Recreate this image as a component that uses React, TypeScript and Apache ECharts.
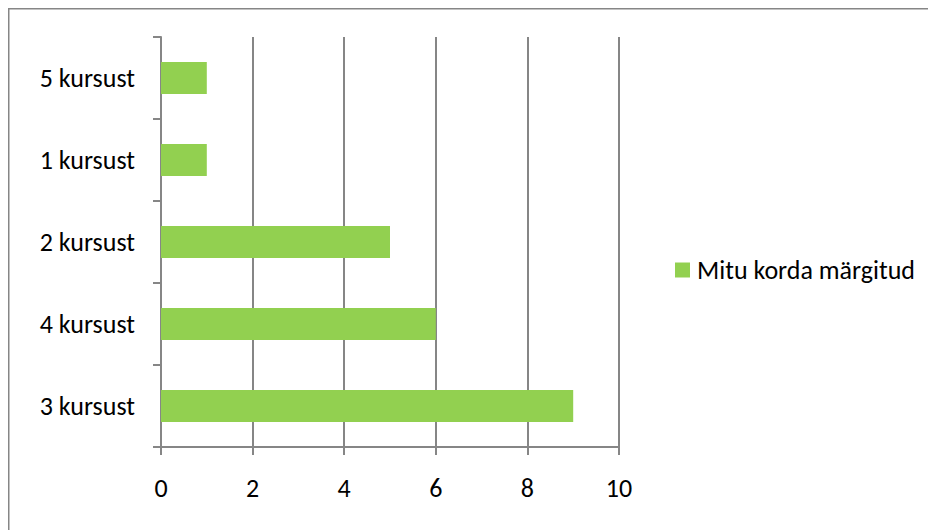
import React, { useEffect, useRef } from "react";
import * as echarts from "echarts";

const categories = ["3 kursust", "4 kursust", "2 kursust", "1 kursust", "5 kursust"];
const values = [9, 6, 5, 1, 1];
const seriesName = "Mitu korda märgitud";
const xMin = 0;
const xMax = 10;
const xStep = 2;

const FONT = "Carlito, Lato, sans-serif";
const AXIS = "#868686";
const FS = 26;

export default function App() {
  const ref = useRef<HTMLDivElement>(null);
  useEffect(() => {
    if (!ref.current) return;
    const chart = echarts.init(ref.current, null, { renderer: "svg" });
    chart.setOption({
      animation: false,
      backgroundColor: "#ffffff",
      textStyle: { fontFamily: FONT },
      graphic: [
        { type: "line", shape: { x1: 0, y1: 0.5, x2: 928, y2: 0.5 }, style: { stroke: AXIS, lineWidth: 2 } },
        { type: "line", shape: { x1: 0.5, y1: 0, x2: 0.5, y2: 522 }, style: { stroke: AXIS, lineWidth: 2 } },
      ],
      grid: { left: 153, right: 317, top: 29, bottom: 83, containLabel: false },
      legend: {
        data: [seriesName],
        left: 662,
        top: 244,
        itemWidth: 15,
        itemHeight: 15,
        itemGap: 7,
        icon: "rect",
        textStyle: { fontFamily: FONT, fontSize: FS, color: "#000", padding: [0, 0, 0, 2] },
      },
      xAxis: {
        type: "value",
        min: xMin,
        max: xMax,
        interval: xStep,
        axisLine: { show: true, lineStyle: { color: AXIS, width: 2 } },
        axisTick: { show: true, length: 8, lineStyle: { color: AXIS, width: 2 } },
        splitLine: { show: true, lineStyle: { color: AXIS, width: 2 } },
        axisLabel: { fontFamily: FONT, fontSize: FS, color: "#000", margin: 28 },
      },
      yAxis: {
        type: "category",
        data: categories,
        axisLine: { show: true, lineStyle: { color: AXIS, width: 2 } },
        axisTick: { show: true, length: 8, lineStyle: { color: AXIS, width: 2 } },
        axisLabel: { fontFamily: FONT, fontSize: FS, color: "#000", margin: 26 },
      },
      series: [
        {
          name: seriesName,
          type: "bar",
          data: values,
          barWidth: 32,
          itemStyle: { color: "#92D050" },
        },
      ],
    });
    return () => chart.dispose();
  }, []);
  return <div ref={ref} style={{ width: 928, height: 522 }} />;
}
